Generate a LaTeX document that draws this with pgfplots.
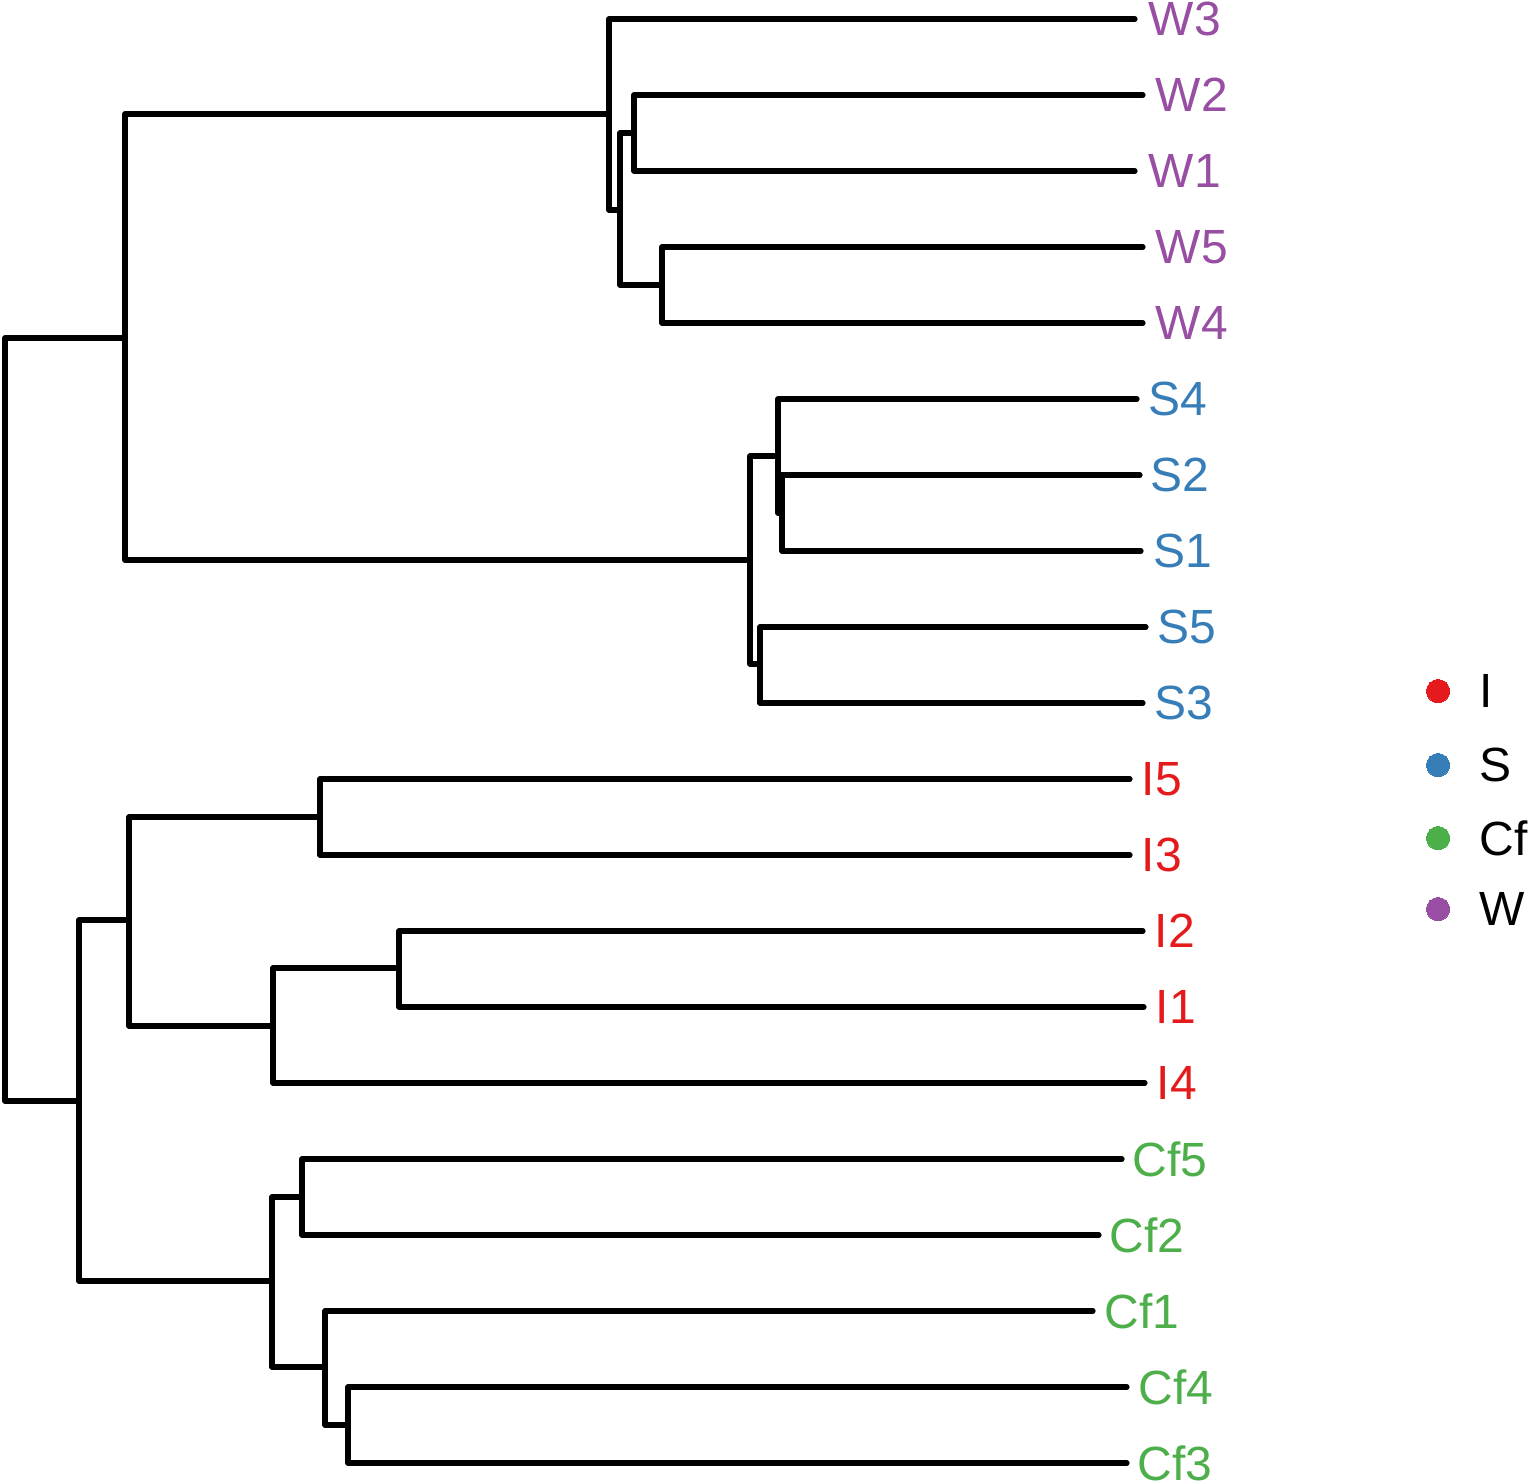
\documentclass[border=0pt]{standalone}
\usepackage{pgfplots}
\pgfplotsset{compat=1.18}
\usepackage{fontspec}
\setmainfont{Liberation Sans}
\definecolor{cI}{HTML}{E41A1C}
\definecolor{cS}{HTML}{377EB8}
\definecolor{cC}{HTML}{4DAF4A}
\definecolor{cW}{HTML}{984EA3}
\begin{document}
\begin{tikzpicture}
\begin{axis}[scale only axis, width=383pt, height=370.5pt,
  xmin=0, xmax=1532, ymin=0, ymax=1482, y dir=reverse,
  hide axis, clip=false,
  br/.style={black, solid, line width=1.3pt, line cap=round, line join=round, mark=none},
  dot/.style={only marks, mark=*, mark size=2.9pt, color=#1, mark options={draw=#1, fill=#1, line width=0pt}}]
\coordinate (ll) at (axis cs:0,1482);
\coordinate (ur) at (axis cs:1532,0);
% dendrogram merges (x = height, y = leaf position)
\addplot[br] coordinates {(125,338) (5,338) (5,1101) (79,1101)};
\addplot[br] coordinates {(609,114) (125,114) (125,560) (750,560)};
\addplot[br] coordinates {(1135,19) (609,19) (609,210) (620,210)};
\addplot[br] coordinates {(634,133) (620,133) (620,285) (662,285)};
\addplot[br] coordinates {(1143,95) (634,95) (634,171) (1135,171)};
\addplot[br] coordinates {(1143,247) (662,247) (662,323) (1143,323)};
\addplot[br] coordinates {(778,456) (750,456) (750,664) (760,664)};
\addplot[br] coordinates {(1137,399) (778,399) (778,513) (782,513)};
\addplot[br] coordinates {(1140,475) (782,475) (782,551) (1141,551)};
\addplot[br] coordinates {(1146,627) (760,627) (760,703) (1143,703)};
\addplot[br] coordinates {(129,920) (79,920) (79,1281) (272,1281)};
\addplot[br] coordinates {(320,817) (129,817) (129,1026) (273,1026)};
\addplot[br] coordinates {(1130,779) (320,779) (320,855) (1130,855)};
\addplot[br] coordinates {(399,968) (273,968) (273,1083) (1145,1083)};
\addplot[br] coordinates {(1143,931) (399,931) (399,1007) (1144,1007)};
\addplot[br] coordinates {(302,1197) (272,1197) (272,1367) (325,1367)};
\addplot[br] coordinates {(1122,1159) (302,1159) (302,1235) (1099,1235)};
\addplot[br] coordinates {(1093,1311) (325,1311) (325,1425) (348,1425)};
\addplot[br] coordinates {(1127,1387) (348,1387) (348,1463) (1127,1463)};
% leaf labels
\begin{scope}[every node/.style={anchor=west, inner sep=0pt, font=\fontsize{12}{14}\selectfont}]
\node[text=cW] at (axis cs:1148,19) {W3};
\node[text=cW] at (axis cs:1155,95) {W2};
\node[text=cW] at (axis cs:1148,171) {W1};
\node[text=cW] at (axis cs:1155,247) {W5};
\node[text=cW] at (axis cs:1155,323) {W4};
\node[text=cS] at (axis cs:1148,399) {S4};
\node[text=cS] at (axis cs:1150,475) {S2};
\node[text=cS] at (axis cs:1153,551) {S1};
\node[text=cS] at (axis cs:1157,627) {S5};
\node[text=cS] at (axis cs:1154,703) {S3};
\node[text=cI] at (axis cs:1141,779) {I5};
\node[text=cI] at (axis cs:1141,855) {I3};
\node[text=cI] at (axis cs:1154,931) {I2};
\node[text=cI] at (axis cs:1155,1007) {I1};
\node[text=cI] at (axis cs:1156,1083) {I4};
\node[text=cC] at (axis cs:1132,1159) {Cf5};
\node[text=cC] at (axis cs:1109,1235) {Cf2};
\node[text=cC] at (axis cs:1104,1311) {Cf1};
\node[text=cC] at (axis cs:1138,1387) {Cf4};
\node[text=cC] at (axis cs:1137,1463) {Cf3};
% legend
\node[text=black] at (axis cs:1479,691) {I};
\node[text=black] at (axis cs:1479,765) {S};
\node[text=black] at (axis cs:1479,838) {Cf};
\node[text=black] at (axis cs:1479,909) {W};
\end{scope}
\addplot[dot=cI] coordinates {(1438,691)};
\addplot[dot=cS] coordinates {(1438,765)};
\addplot[dot=cC] coordinates {(1438,838)};
\addplot[dot=cW] coordinates {(1438,909)};
\end{axis}
\pgfresetboundingbox
\useasboundingbox (ll) rectangle (ur);
\end{tikzpicture}
\end{document}
